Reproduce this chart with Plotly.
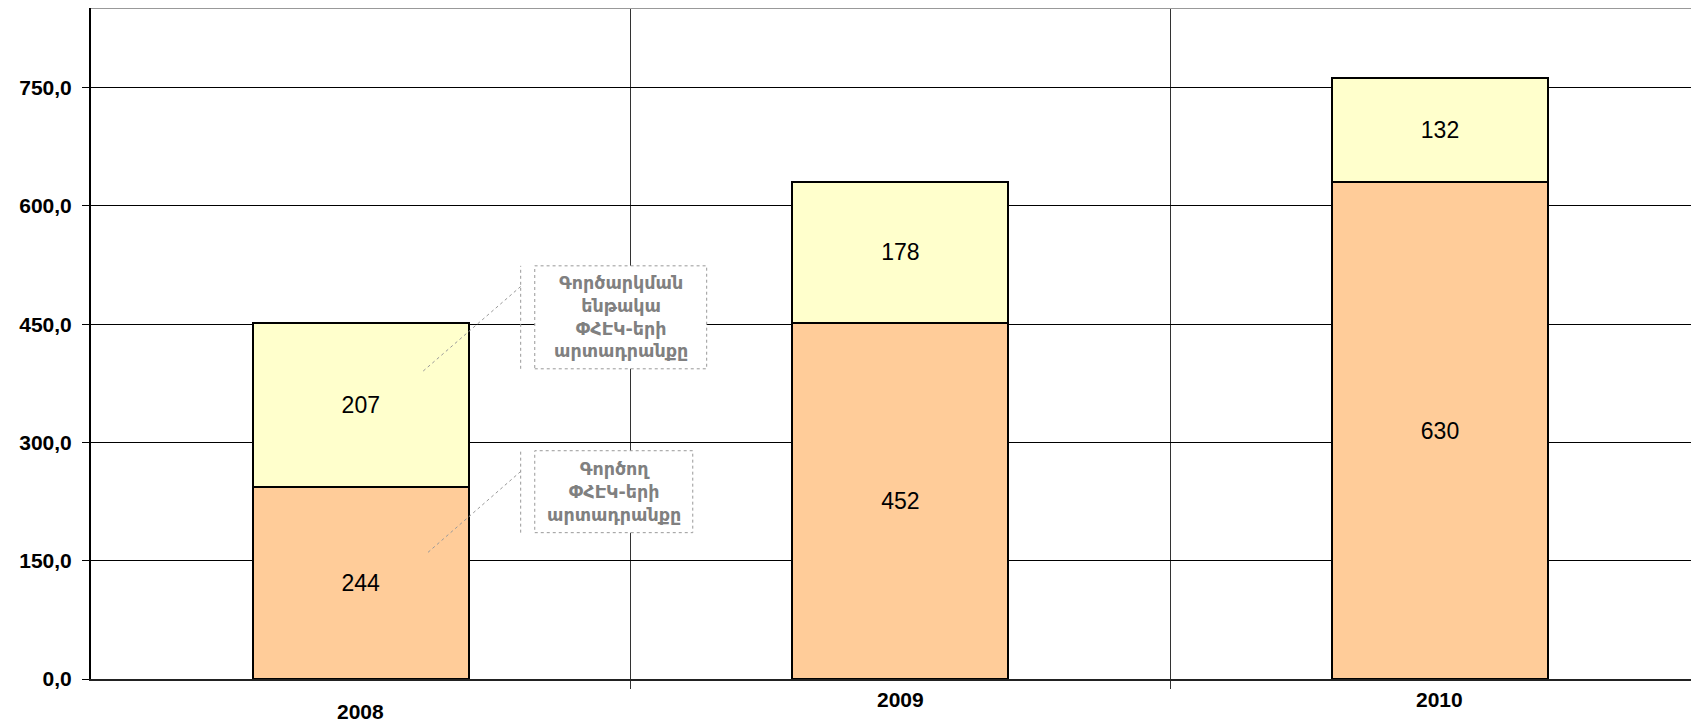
import plotly.graph_objects as go

years = ["2008", "2009", "2010"]
operating = [244, 452, 630]
planned = [207, 178, 132]
operating_name = "Գործող<br>ՓՀԷԿ-երի<br>արտադրանքը"
planned_name = "Գործարկման<br>ենթակա<br>ՓՀԷԿ-երի<br>արտադրանքը"
y_ticks = [0, 150, 300, 450, 600, 750]
year_label_shift = {"2008": -32, "2009": -20, "2010": -20}

xpos = list(range(len(years)))
bar_line = dict(color="black", width=2)
label_font = dict(family="Liberation Sans, Arial", size=23, color="black")

fig = go.Figure()
fig.add_bar(
    x=xpos, y=operating, name=operating_name, width=0.4,
    marker=dict(color="#FFCC99", line=bar_line),
    text=[str(v) for v in operating], textposition="inside",
    insidetextanchor="middle", textangle=0, textfont=label_font,
)
fig.add_bar(
    x=xpos, y=planned, name=planned_name, width=0.4,
    marker=dict(color="#FFFFCC", line=bar_line),
    text=[str(v) for v in planned], textposition="inside",
    insidetextanchor="middle", textangle=0, textfont=label_font,
)

# page body has an 8px margin, so the figure is sized to fill the rest
fig.update_layout(
    barmode="stack",
    width=1691, height=716,
    margin=dict(l=83, r=0, t=0, b=45, autoexpand=False),
    paper_bgcolor="white", plot_bgcolor="white",
    showlegend=False,
    font=dict(family="Liberation Sans, Arial", color="black"),
)
fig.update_yaxes(
    range=[0, 851],
    tickvals=y_ticks,
    ticktext=[f"{v:.1f}".replace(".", ",") for v in y_ticks],
    tickfont=dict(size=21, color="black", family="Liberation Sans, Arial", weight="bold"),
    ticks="outside", ticklen=7, tickcolor="black",
    ticklabelstandoff=6,
    showgrid=True, gridcolor="black", gridwidth=1,
    showline=True, linecolor="black", linewidth=2,
    zeroline=False,
)
fig.update_xaxes(
    range=[-0.5, 2.48],
    showticklabels=False, ticks="",
    showgrid=False,
    showline=True, linecolor="#222", linewidth=2,
    zeroline=False,
    minor=dict(tickvals=[0.5, 1.5, 2.5], showgrid=True, gridcolor="#333",
               gridwidth=1, ticks="outside", ticklen=8, tickcolor="#333"),
)

# year labels (staggered like the original)
for i, yr in enumerate(years):
    fig.add_annotation(
        x=i, y=0, xref="x", yref="y", text=yr, showarrow=False,
        yanchor="middle", yshift=year_label_shift[yr],
        font=dict(size=21, color="black", family="Liberation Sans, Arial", weight="bold"),
    )

# top border
fig.add_shape(type="line", xref="paper", yref="paper", x0=0, x1=1, y0=1, y1=1,
              line=dict(color="#999", width=2))

# callout labels for the two series
dot = dict(color="#999", width=1, dash="dot")
callouts = [
    (planned_name, (0.3224, 0.641, 393.4, 524.0), (0.2963, 497.8, 0.1147, 390.0)),
    (operating_name, (0.3224, 0.6152, 185.6, 289.5), (0.2963, 263.2, 0.1245, 160.6)),
]
for text, (bx0, bx1, by0, by1), (lx0, ly0, lx1, ly1) in callouts:
    fig.add_shape(type="rect", x0=bx0, x1=bx1, y0=by0, y1=by1, line=dot,
                  fillcolor="white", layer="above")
    fig.add_shape(type="line", x0=lx0, x1=lx0, y0=by0, y1=by1, line=dot)
    fig.add_shape(type="line", x0=lx0, y0=ly0, x1=lx1, y1=ly1, line=dot)
    fig.add_annotation(
        x=(bx0 + bx1) / 2, y=(by0 + by1) / 2, text=text, showarrow=False,
        font=dict(family="DejaVu Sans", size=17.5, color="#808080", weight="bold"),
        align="center",
    )

fig.write_html("out.html")
